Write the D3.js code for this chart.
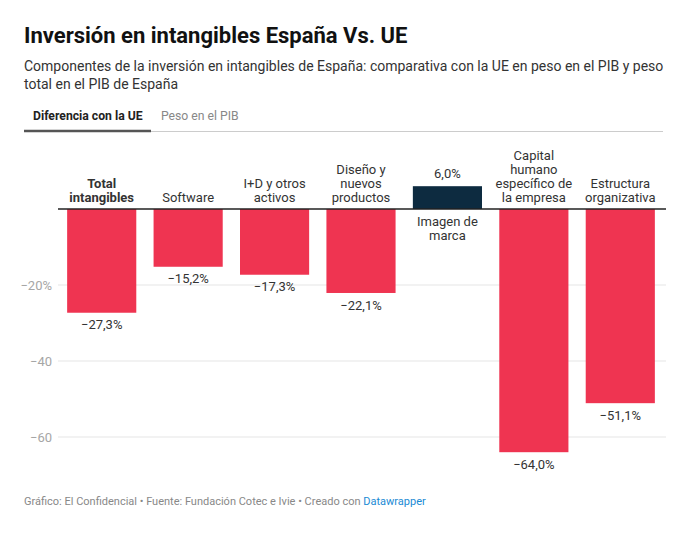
<!DOCTYPE html>
<html>
<head>
<meta charset="utf-8">
<script src="https://cdn.jsdelivr.net/npm/d3@7"></script>
<style>
  body { margin: 0; background: #fff; font-family: Roboto, "Noto Sans", sans-serif; }
  svg text { font-family: Roboto, "Noto Sans", sans-serif; }
</style>
</head>
<body>
<svg id="chart" width="693" height="539"></svg>
<script>
// data
var categories = ["Total intangibles", "Software", "I+D y otros activos", "Diseño y nuevos productos",
                  "Imagen de marca", "Capital humano específico de la empresa", "Estructura organizativa"];
var values = [-27.3, -15.2, -17.3, -22.1, 6.0, -64.0, -51.1];
var yTicks = [-20, -40, -60];
var tabs = ["Diferencia con la UE", "Peso en el PIB"];

var svg = d3.select("#chart");

svg.append("text").attr("x", 24).attr("y", 43)
    .style("font-size", "22px").style("font-weight", "700").attr("fill", "#111")
    .text("Inversión en intangibles España Vs. UE");

var sub = svg.append("text").attr("x", 24).attr("y", 71)
    .style("font-size", "14px").attr("fill", "#333");
sub.append("tspan").attr("x", 24).text("Componentes de la inversión en intangibles de España: comparativa con la UE en peso en el PIB y peso");
sub.append("tspan").attr("x", 24).attr("dy", 18).text("total en el PIB de España");

// tabs
svg.append("line").attr("x1", 24).attr("x2", 663).attr("y1", 131.5).attr("y2", 131.5)
    .attr("stroke", "#ccc").attr("stroke-width", 1);
svg.append("line").attr("x1", 24).attr("x2", 151).attr("y1", 131).attr("y2", 131)
    .attr("stroke", "#555").attr("stroke-width", 2.5);
svg.append("text").attr("x", 33).attr("y", 120).style("font-size", "12.2px")
    .style("font-weight", "700").attr("fill", "#222").text(tabs[0]);
svg.append("text").attr("x", 161).attr("y", 120).style("font-size", "12.2px")
    .attr("fill", "#888").text(tabs[1]);

var x = d3.scaleBand().domain(categories).range([58.5, 663.5])
    .paddingInner(0.2).paddingOuter(0.1);
var y = d3.scaleLinear().domain([0, -60]).range([209, 437]);

var loc = d3.formatLocale({decimal: ",", thousands: ".", grouping: [3], currency: ["", "€"], minus: "\u2212"});
var fmtVal = loc.format(".1f");
var fmtTick = loc.format("d");

// grid
var g = svg.append("g");
g.selectAll(".grid").data(yTicks).join("line")
    .attr("x1", 58).attr("x2", 666)
    .attr("y1", d => y(d)).attr("y2", d => y(d))
    .attr("stroke", "#e5e5e5");
g.selectAll(".tick").data(yTicks).join("text")
    .attr("x", 52).attr("y", d => y(d)).attr("dy", "0.35em")
    .attr("text-anchor", "end").style("font-size", "13px").attr("fill", "#a6a6a6")
    .text((d, i) => fmtTick(d) + (i == 0 ? "%" : ""));

// bars
g.selectAll(".bar").data(values).join("rect")
    .attr("x", (d, i) => x(categories[i]))
    .attr("width", x.bandwidth())
    .attr("y", d => d < 0 ? y(0) : y(d))
    .attr("height", d => Math.abs(y(d) - y(0)))
    .attr("fill", d => d < 0 ? "#ef3451" : "#0d2b40");

// zero line
g.append("line").attr("x1", 58).attr("x2", 666).attr("y1", y(0)).attr("y2", y(0))
    .attr("stroke", "#222").attr("stroke-width", 1.3);

// value labels
g.selectAll(".val").data(values).join("text")
    .attr("x", (d, i) => x(categories[i]) + x.bandwidth() / 2)
    .attr("y", d => d < 0 ? y(d) + 12 : y(d) - 13)
    .attr("dy", "0.35em").attr("text-anchor", "middle")
    .style("font-size", "13px").attr("fill", "#333")
    .text(d => fmtVal(d) + "%");

// category labels, wrapped
var lineH = 14;
function wrapWords(text, maxW, measure) {
    var words = text.split(" "), lines = [], cur = "";
    words.forEach(w => {
        var t = cur ? cur + " " + w : w;
        if (cur && measure(t) > maxW) { lines.push(cur); cur = w; } else cur = t;
    });
    lines.push(cur);
    return lines;
}
var probe = svg.append("text").style("font-size", "13px");
categories.forEach((c, i) => {
    var bold = i == 0;
    probe.style("font-weight", bold ? "700" : "400");
    var lines = wrapWords(c, x.bandwidth() + 10, s => { probe.text(s); return probe.node().getComputedTextLength(); });
    var cx = x(c) + x.bandwidth() / 2;
    var pos = values[i] >= 0;
    var y0 = pos ? y(0) + 12 : y(0) - 12 - (lines.length - 1) * lineH;
    var t = g.append("text").attr("text-anchor", "middle").style("font-size", "13px")
        .style("font-weight", bold ? "700" : "400").attr("fill", "#333");
    lines.forEach((l, k) => {
        t.append("tspan").attr("x", cx).attr("y", y0 + k * lineH).attr("dy", "0.35em").text(l);
    });
});
probe.remove();

// footer
var foot = svg.append("text").attr("x", 24).attr("y", 505).style("font-size", "11px").attr("fill", "#888");
foot.append("tspan").text("Gráfico: El Confidencial • Fuente: Fundación Cotec e Ivie • Creado con ");
foot.append("tspan").attr("fill", "#1a8ad4").text("Datawrapper");
</script>
</body>
</html>
